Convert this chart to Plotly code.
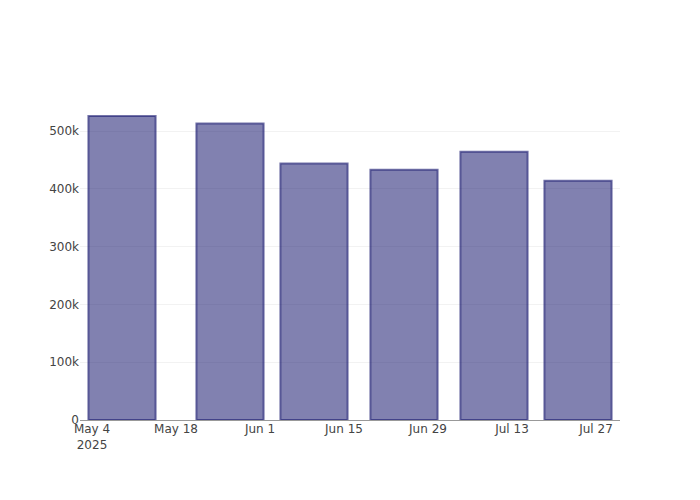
import plotly.graph_objects as go

dates = ["2025-05-09", "2025-05-27", "2025-06-10", "2025-06-25", "2025-07-10", "2025-07-24"]
values = [526000, 513000, 444000, 433000, 464000, 414000]

fig = go.Figure(
    go.Bar(
        x=dates,
        y=values,
        marker=dict(
            color="rgba(25,25,112,0.55)",
            line=dict(color="rgba(25,25,112,0.6)", width=2),
        ),
    )
)

fig.update_layout(
    template="plotly_white",
    width=700,
    height=500,
    margin=dict(l=80, r=80, t=100, b=80),
    font=dict(family="DejaVu Sans", color="#444"),
    showlegend=False,
)
fig.update_xaxes(
    range=["2025-05-02", "2025-07-31"],
    showgrid=False,
    showline=True,
    linecolor="#999",
    linewidth=1,
    ticks="",
    ticklabelstandoff=-2,
    dtick=14 * 24 * 3600 * 1000,
    tick0="2025-05-04",
)
fig.update_yaxes(
    gridcolor="#f2f2f2",
    zeroline=False,
    showline=False,
)

fig.write_html(
    "out.html",
    config={"displayModeBar": False},
    post_script="document.body.style.margin='0';",
)
